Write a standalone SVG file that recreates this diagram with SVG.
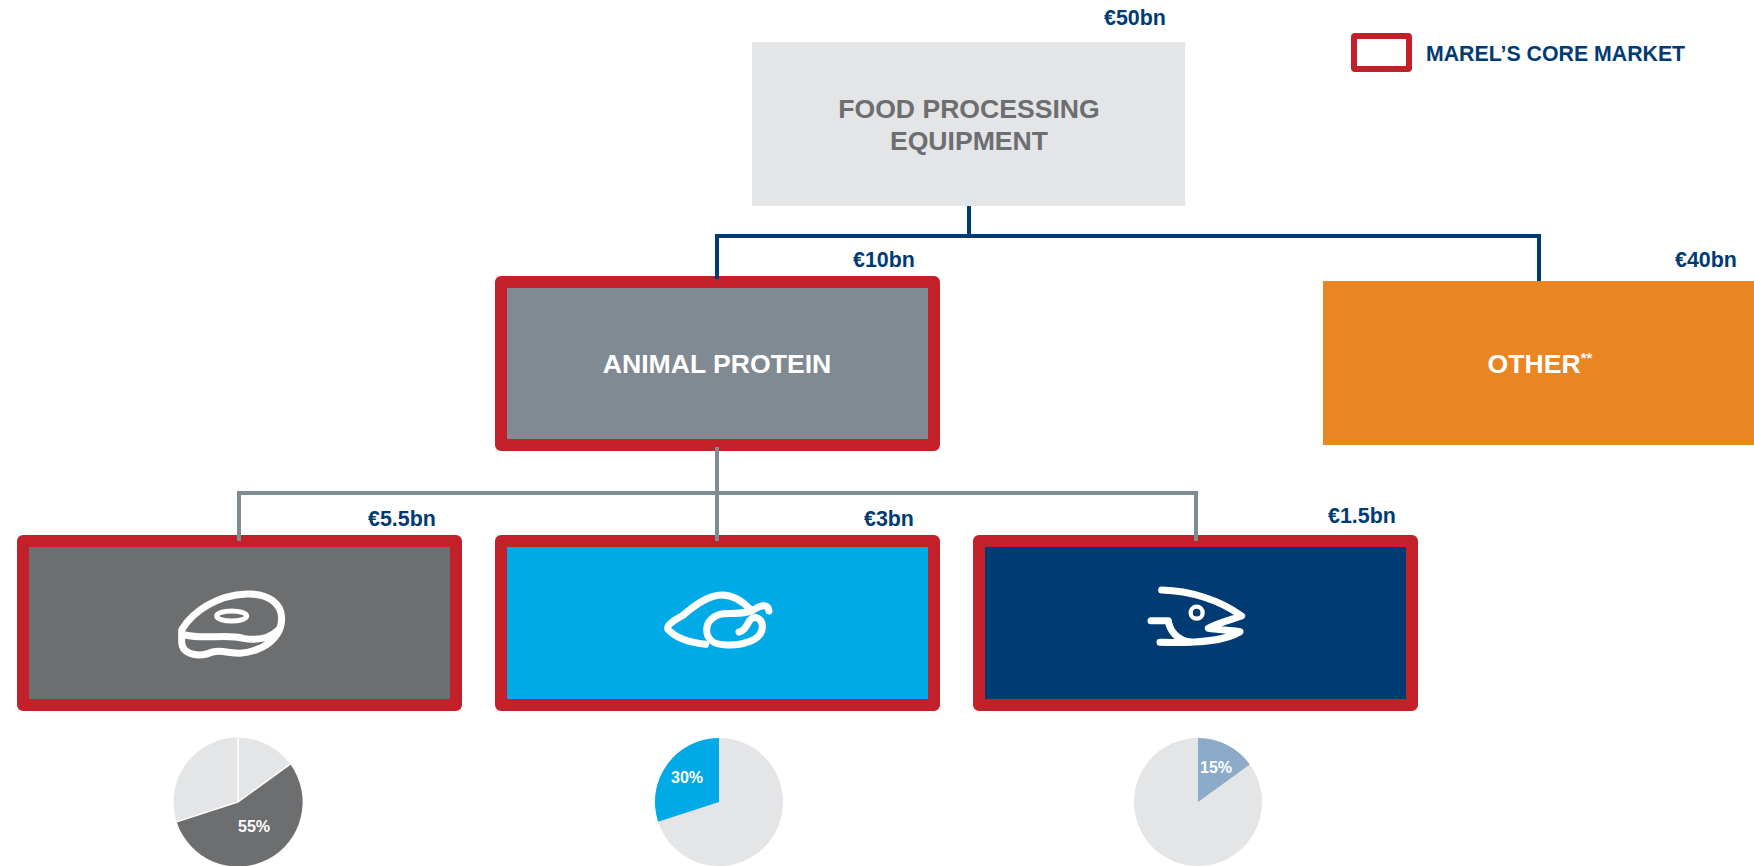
<svg xmlns="http://www.w3.org/2000/svg" width="1754" height="866" viewBox="0 0 1754 866">
<style>
text{font-family:"Liberation Sans",Arial,sans-serif;font-weight:700}
.val{font-size:21.4px;fill:#003b73}
.head{font-size:26.6px;text-anchor:middle}
.core{stroke:#c4202a;stroke-width:12;stroke-linejoin:round}
.ic{fill:none;stroke:#fff;stroke-linecap:round;stroke-linejoin:round}
.pct{font-size:16px;fill:#fff}
</style>
<rect width="1754" height="866" fill="#fff"/>
<g id="node-food"><rect x="752" y="42" width="433" height="164" fill="#e4e5e7"/>
<text class="head" x="969" y="118" fill="#6d6e70">FOOD PROCESSING</text><text class="head" x="969" y="150" fill="#6d6e70">EQUIPMENT</text>
<text class="val" x="1104" y="25">€50bn</text></g>
<g id="node-animal"><rect x="501" y="282" width="433" height="163" fill="#808a93" class="core"/>
<text class="head" x="717" y="373" fill="#fff">ANIMAL PROTEIN</text>
<text class="val" x="853" y="267">€10bn</text></g>
<g id="node-other"><rect x="1323" y="281" width="431" height="164" fill="#e98523"/>
<text class="head" x="1540" y="373" fill="#fff">OTHER<tspan font-size="15" dy="-10">**</tspan></text>
<text class="val" x="1675" y="267">€40bn</text></g>
<g id="node-meat"><rect x="23" y="541" width="433" height="164" fill="#6d6e70" class="core"/>
<g class="ic" transform="translate(170 575) scale(.3333)" stroke-width="21">
<path d="M45 180C110 195 165 175 220 190C260 197 300 190 325 165M38 160C70 110 140 60 230 57C295 55 335 85 335 130C335 190 280 228 210 235C170 235 150 220 110 237C75 245 35 235 35 200V165Z"/>
<ellipse cx="185" cy="123" rx="45" ry="15" stroke-width="15"/></g>
<text class="val" x="368" y="526">€5.5bn</text></g>
<g id="node-poultry"><rect x="501" y="541" width="433" height="164" fill="#00aae7" class="core"/>
<g class="ic" transform="translate(655 585) scale(.3333)" stroke-width="21">
<path d="M152 178C100 172 60 158 38 132C35 118 60 105 85 90C120 60 160 30 200 30C240 30 270 55 290 78"/>
<path d="M342 78C340 58 320 58 300 72C275 88 240 84 205 86C175 90 155 110 155 135C155 165 180 180 215 180C265 182 322 165 322 125C322 100 300 90 285 105C275 120 270 138 252 141"/></g>
<text class="val" x="864" y="526">€3bn</text></g>
<g id="node-fish"><rect x="979" y="541" width="433" height="164" fill="#003b73" class="core"/>
<g class="ic" transform="translate(1140 580) scale(.3333)" stroke-width="21">
<path d="M65 30C150 32 240 60 305 108C270 120 230 130 205 145C235 150 270 150 300 155C260 180 190 190 60 187"/>
<path d="M33 122H85C88 150 110 180 150 186"/>
<circle cx="170" cy="98" r="18" stroke-width="13"/></g>
<text class="val" x="1328" y="523">€1.5bn</text></g>
<g id="connectors" fill="none">
<path d="M969 206V236H717V279M969 236H1539V281" stroke="#003b73" stroke-width="4"/>
<path d="M717 447V541M239 541V493H1196V541" stroke="#808a93" stroke-width="4"/>
</g>
<g id="pie-meat"><circle cx="238" cy="802" r="64.5" fill="#e4e5e7"/>
<path d="M238 802L290.2 764.1A64.5 64.5 0 1 1 176.7 821.9Z" fill="#6d6e70"/>
<path d="M238 737.5V802L176.7 821.9M238 802L290.2 764.1" fill="none" stroke="#fff" stroke-width="1.5"/>
<text class="pct" x="238" y="832">55%</text></g>
<g id="pie-poultry"><circle cx="719" cy="802" r="64" fill="#e4e5e7"/>
<path d="M719 802L658.1 821.8A64 64 0 0 1 719 738Z" fill="#00aae7"/>
<text class="pct" x="671" y="783">30%</text></g>
<g id="pie-fish"><circle cx="1198" cy="802" r="64" fill="#e4e5e7"/>
<path d="M1198 802V738A64 64 0 0 1 1249.8 764.4Z" fill="#8babc9"/>
<text class="pct" x="1200" y="773">15%</text></g>
<g id="legend"><rect x="1354" y="36" width="55" height="33" fill="#fff" stroke="#c4202a" stroke-width="6" rx="1"/>
<text x="1426" y="61" font-size="21.3" fill="#003b73">MAREL’S CORE MARKET</text></g>
</svg>
